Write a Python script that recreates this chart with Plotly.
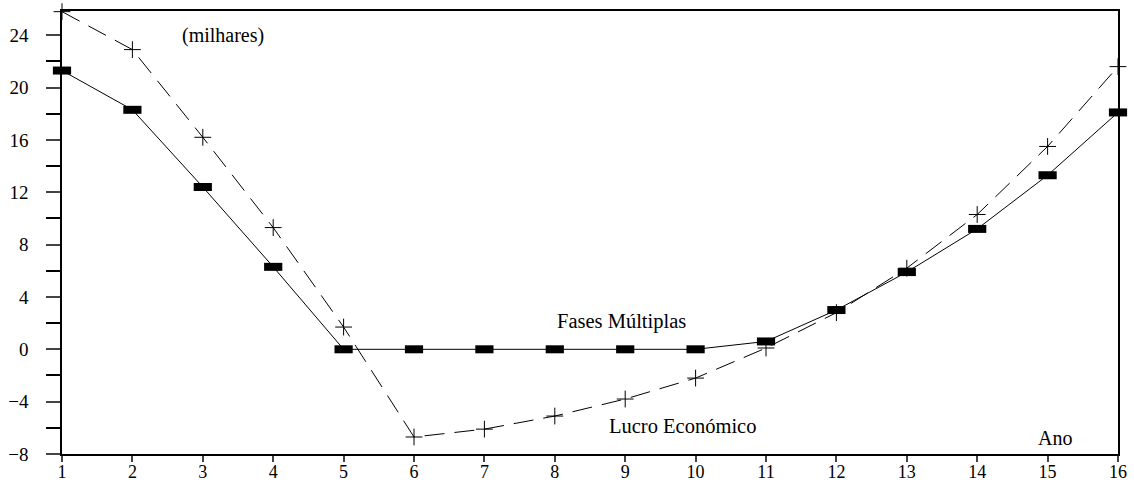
import plotly.graph_objects as go

anos = list(range(1, 17))
fases_multiplas = [21.3, 18.3, 12.4, 6.3, 0, 0, 0, 0, 0, 0, 0.6, 3.0, 5.9, 9.2, 13.3, 18.1]
lucro_economico = [25.8, 22.9, 16.2, 9.3, 1.7, -6.7, -6.1, -5.1, -3.8, -2.2, 0.1, 2.8, 6.2, 10.3, 15.5, 21.6]
y_ticks = [-8, -4, 0, 4, 8, 12, 16, 20, 24]

FONT = "Liberation Serif"

fig = go.Figure()
fig.add_trace(go.Scatter(
    x=anos, y=lucro_economico, mode="lines+markers",
    line=dict(color="black", width=1, dash="20px,10px"),
    marker=dict(symbol="cross-thin", size=12, line=dict(color="black", width=1)),
    cliponaxis=False, showlegend=False))
fig.add_trace(go.Scatter(
    x=anos, y=fases_multiplas, mode="lines",
    line=dict(color="black", width=1),
    cliponaxis=False, showlegend=False))
fig.add_trace(go.Scatter(
    x=anos, y=fases_multiplas, mode="markers",
    marker=dict(symbol="line-ew", size=13, line=dict(color="black", width=8)),
    cliponaxis=False, showlegend=False))

fig.update_layout(
    width=1134, height=482,
    margin=dict(l=62, r=16, t=11, b=28),
    paper_bgcolor="white", plot_bgcolor="white",
    font=dict(family=FONT, size=20, color="black"),
    xaxis=dict(range=[1, 16], tickvals=anos, ticks="outside", ticklen=6, tickwidth=1.5,
               showgrid=False, zeroline=False, showline=True, linewidth=1.5, linecolor="black",
               mirror=True, automargin=False, ticklabelstandoff=-5,
               tickfont=dict(family=FONT, size=18)),
    yaxis=dict(range=[-8, 25.85], tickvals=y_ticks, ticks="outside", ticklen=14, tickwidth=1.5,
               minor=dict(dtick=2, tick0=0, ticks="outside", ticklen=14, tickwidth=1.5, tickcolor="black"),
               showgrid=False, zeroline=False, showline=True, linewidth=1.5, linecolor="black",
               mirror=True, automargin=False, ticklabelstandoff=14, tickfont=dict(family=FONT, size=19)),
    annotations=[
        dict(text="(milhares)", x=3.28, y=24.0, xref="x", yref="y", showarrow=False,
             xanchor="center", yanchor="middle", font=dict(family=FONT, size=20)),
        dict(text="Fases Múltiplas", x=8.95, y=2.09, xref="x", yref="y", showarrow=False,
             xanchor="center", yanchor="middle", font=dict(family=FONT, size=20.5)),
        dict(text="Lucro Económico", x=9.82, y=-5.86, xref="x", yref="y", showarrow=False,
             xanchor="center", yanchor="middle", font=dict(family=FONT, size=20.5)),
        dict(text="Ano", x=15.1, y=-6.78, xref="x", yref="y", showarrow=False,
             xanchor="center", yanchor="middle", font=dict(family=FONT, size=20)),
    ],
)

fig.write_html("out.html", config={"displayModeBar": False},
               post_script="document.body.style.margin='0';")
